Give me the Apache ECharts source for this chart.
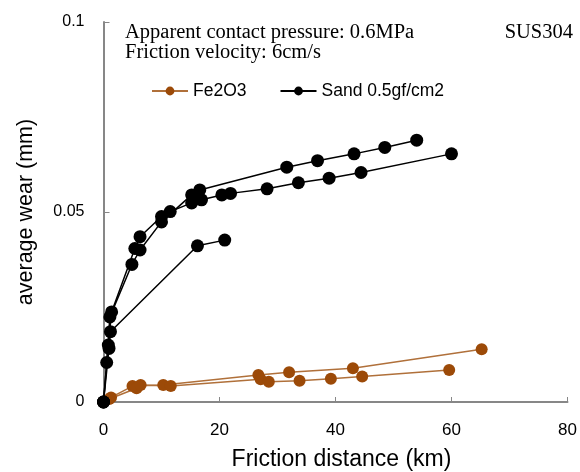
<!DOCTYPE html>
<html>
<head>
<meta charset="utf-8">
<script src="https://cdn.jsdelivr.net/npm/echarts@6/dist/echarts.min.js"></script>
<style>html,body{margin:0;padding:0;background:#fff;}#c{width:580px;height:472px;}</style>
</head>
<body>
<div id="c"></div>
<script>
// Data: [friction distance (km), average wear (mm)]
const fe2o3RunA = [[0,0],[1.3,0.0012],[5.0,0.0042],[10.3,0.0045],[26.7,0.0071],[32.0,0.0078],[43.0,0.0089],[65.2,0.0139]];
const fe2o3RunB = [[0,0],[1.0,0.0008],[5.7,0.0036],[6.4,0.0045],[11.6,0.0042],[27.1,0.0060],[28.5,0.0053],[33.8,0.0056],[39.2,0.0061],[44.6,0.0067],[59.6,0.0084]];
const sandRunA = [[0,0],[0.55,0.0104],[1.1,0.0224],[4.9,0.0362],[6.3,0.0400],[10.0,0.0474],[15.2,0.0545],[16.6,0.0558],[31.6,0.0618],[36.9,0.0635],[43.2,0.0653],[48.5,0.0670],[54.0,0.0689]];
const sandRunB = [[0,0],[0.83,0.0150],[1.4,0.0237],[5.4,0.0404],[6.3,0.0435],[10.0,0.0488],[11.5,0.0501],[15.2,0.0524],[16.9,0.0532],[20.4,0.0545],[21.9,0.0549],[28.2,0.0561],[33.6,0.0577],[38.9,0.0589],[44.4,0.0604],[60.0,0.0653]];
const sandRunC = [[0,0],[0.95,0.0141],[1.2,0.0185],[16.2,0.0411],[20.9,0.0426]];
const seriesNames = ['Fe2O3', 'Sand 0.5gf/cm2'];
const xTicks = [0, 20, 40, 60, 80];
const yTicks = [0, 0.05, 0.1];
const noteLines = ['Apparent contact pressure: 0.6MPa', 'Friction velocity: 6cm/s'];
const materialLabel = 'SUS304';

const feMarker = '#9C4A08', feLine = '#B0703A';
const sandColor = '#000000';

function feSeries(data) {
  return { name: seriesNames[0], type: 'line', data: data, symbol: 'circle', symbolSize: 12,
    itemStyle: { color: feMarker }, lineStyle: { color: feLine, width: 1.5 }, z: 2 };
}
function sandSeries(data) {
  return { name: seriesNames[1], type: 'line', data: data, symbol: 'circle', symbolSize: 13,
    itemStyle: { color: sandColor }, lineStyle: { color: sandColor, width: 1.5 }, z: 3 };
}

const chart = echarts.init(document.getElementById('c'), null, { renderer: 'canvas' });
chart.setOption({
  animation: false,
  backgroundColor: '#fff',
  grid: { left: 103.5, right: 12.5, top: 22, bottom: 70, containLabel: false, outerBoundsMode: 'none' },
  legend: {
    data: seriesNames, left: 146, top: 77, itemWidth: 36, itemHeight: 11, itemGap: 33,
    textStyle: { fontFamily: 'Liberation Sans', fontSize: 17.5, color: '#000' }
  },
  xAxis: {
    type: 'value', min: xTicks[0], max: xTicks[xTicks.length - 1], interval: 20,
    name: 'Friction distance (km)', nameLocation: 'middle', nameGap: 46,
    nameTextStyle: { fontFamily: 'Liberation Sans', fontSize: 23, color: '#000', padding: [0, 0, 0, 12] },
    axisLine: { show: true, lineStyle: { color: '#878787', width: 2 } },
    axisTick: { show: true, inside: true, length: 5, lineStyle: { color: '#878787', width: 1 } },
    axisLabel: { margin: 20, fontFamily: 'Liberation Sans', fontSize: 17, color: '#000' },
    splitLine: { show: false }
  },
  yAxis: {
    type: 'value', min: yTicks[0], max: yTicks[yTicks.length - 1], interval: 0.05,
    name: 'average wear (mm)', nameLocation: 'middle', nameGap: 66,
    nameTextStyle: { fontFamily: 'Liberation Sans', fontSize: 21.5, color: '#000' },
    axisLine: { show: true, lineStyle: { color: '#878787', width: 2 } },
    axisTick: { show: true, inside: true, length: 6, lineStyle: { color: '#878787', width: 1 } },
    axisLabel: { margin: 19, fontFamily: 'Liberation Sans', fontSize: 16, color: '#000',
      formatter: v => String(+v.toFixed(2)) },
    splitLine: { show: false }
  },
  graphic: [
    { type: 'text', left: 125, top: 22, style: { text: noteLines[0], font: '20.5px "Liberation Serif"', fill: '#000' } },
    { type: 'text', left: 125, top: 42, style: { text: noteLines[1], font: '20.5px "Liberation Serif"', fill: '#000' } },
    { type: 'text', right: 7, top: 22, style: { text: materialLabel, font: '20.5px "Liberation Serif"', fill: '#000' } }
  ],
  series: [
    feSeries(fe2o3RunA), feSeries(fe2o3RunB),
    sandSeries(sandRunA), sandSeries(sandRunB), sandSeries(sandRunC)
  ]
});
</script>
</body>
</html>
